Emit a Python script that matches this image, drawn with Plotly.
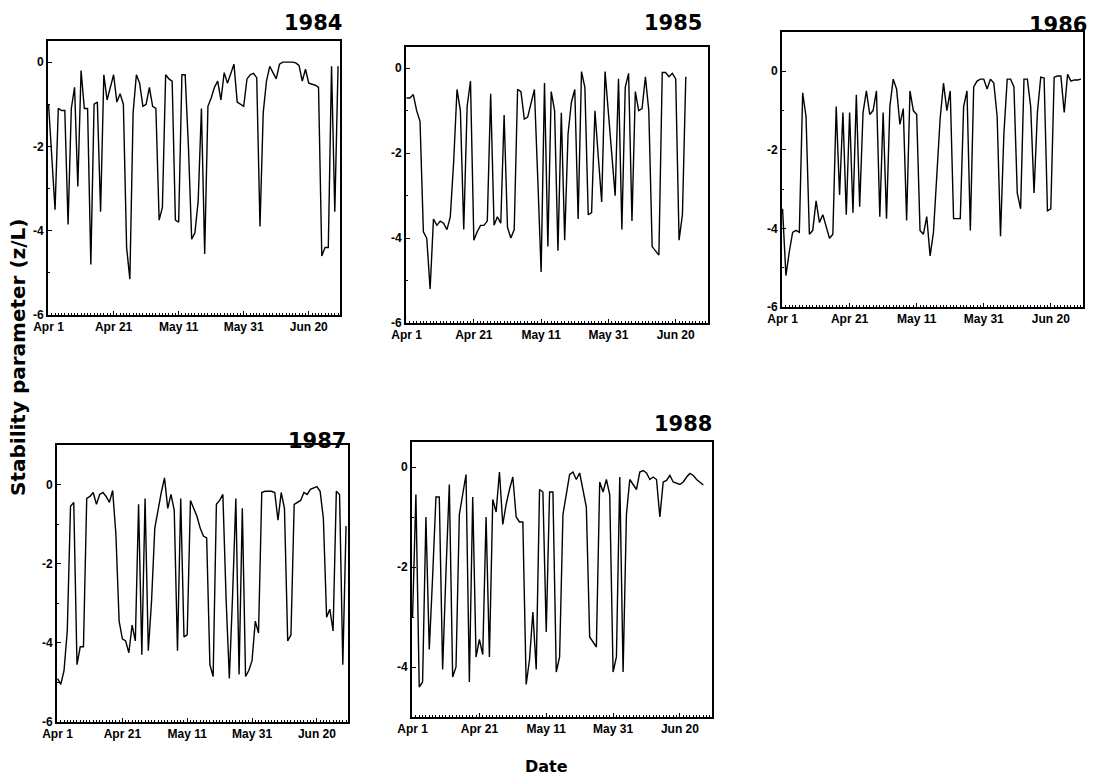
import pandas as pd
import plotly.graph_objects as go

# Daily stability parameter (z/L), starting on April 1 of each year
zl_1984 = [-1.0, -2.4, -3.5, -1.1, -1.15, -1.15, -3.85, -1.1, -0.6, -2.95,
           -0.2, -1.1, -1.1, -4.8, -1.0, -0.95, -3.55, -0.3, -0.9, -0.6,
           -0.3, -0.95, -0.75, -1.0, -4.4, -5.15, -1.2, -0.3, -0.5, -1.05,
           -1.0, -0.6, -1.05, -1.1, -3.75, -3.45, -0.3, -0.4, -0.45, -3.75,
           -3.8, -0.3, -0.3, -2.0, -4.2, -4.05, -3.3, -1.1, -4.55, -1.05,
           -0.85, -0.6, -0.45, -0.9, -0.25, -0.5, -0.3, -0.05, -0.95, -1.0,
           -1.05, -0.4, -0.3, -0.27, -0.37, -3.9, -1.2, -0.45, -0.1, -0.25,
           -0.4, -0.05, 0.0, 0.0, 0.0, 0.0, -0.02, -0.08, -0.45, -0.17,
           -0.5, -0.52, -0.55, -0.6, -4.6, -4.4, -4.4, -0.1, -3.55, -0.1]

zl_1985 = [-0.7, -0.7, -0.62, -1.0, -1.25, -3.85, -4.0, -5.2, -3.55, -3.7,
           -3.6, -3.65, -3.8, -3.5, -2.2, -0.5, -1.0, -3.8, -0.9, -0.3,
           -4.05, -3.85, -3.7, -3.7, -3.6, -0.6, -3.7, -3.5, -3.65, -1.1,
           -3.75, -4.0, -3.8, -0.5, -0.55, -1.2, -1.15, -0.85, -0.5, -2.6,
           -4.8, -0.35, -4.2, -0.55, -1.0, -4.3, -1.05, -4.05, -1.55, -0.8,
           -0.5, -3.55, -0.08, -0.45, -3.45, -3.4, -1.0, -2.1, -3.15, -0.08,
           -1.0, -2.0, -3.0, -0.25, -3.8, -0.45, -0.12, -3.6, -0.55, -1.0,
           -0.95, -0.2, -1.0, -4.2, -4.3, -4.4, -0.1, -0.1, -0.2, -0.12,
           -0.25, -4.05, -3.45, -0.2]

zl_1986 = [-3.5, -5.2, -4.6, -4.1, -4.05, -4.1, -0.55, -1.15, -4.15, -4.05,
           -3.3, -3.85, -3.65, -3.95, -4.25, -4.15, -0.9, -3.15, -1.05, -3.65,
           -1.05, -3.6, -0.6, -3.45, -1.05, -0.5, -1.1, -1.0, -0.5, -3.7,
           -1.05, -3.75, -0.9, -0.2, -0.45, -1.35, -0.95, -3.8, -0.5, -1.0,
           -1.1, -4.05, -4.15, -3.7, -4.7, -4.1, -2.6, -1.2, -0.3, -1.0,
           -0.5, -3.75, -3.75, -3.75, -0.9, -0.5, -4.05, -0.4, -0.25, -0.2,
           -0.2, -0.45, -0.2, -0.3, -1.15, -4.2, -1.6, -0.2, -0.2, -0.4,
           -3.1, -3.5, -0.2, -0.2, -0.9, -3.1, -1.05, -0.15, -0.17, -3.55,
           -3.5, -0.15, -0.12, -0.12, -1.05, -0.08, -0.25, -0.22, -0.22, -0.2]

zl_1987 = [-4.9, -5.05, -4.7, -3.7, -0.55, -0.45, -4.55, -4.1, -4.1, -0.35,
           -0.3, -0.2, -0.5, -0.25, -0.2, -0.3, -0.45, -0.15, -1.25, -3.45,
           -3.9, -3.95, -4.25, -3.55, -3.95, -0.5, -4.3, -0.35, -4.2, -2.95,
           -1.1, -0.6, -0.2, 0.17, -0.6, -0.25, -0.65, -4.2, -0.35, -3.85,
           -3.8, -0.4, -0.6, -0.8, -1.1, -1.3, -1.35, -4.55, -4.85, -0.5,
           -0.4, -0.25, -2.9, -4.9, -2.8, -0.35, -4.8, -0.6, -4.85, -4.7,
           -4.45, -3.45, -3.75, -0.2, -0.17, -0.17, -0.17, -0.2, -0.9, -0.2,
           -0.6, -3.95, -3.8, -0.5, -0.45, -0.4, -0.2, -0.25, -0.12, -0.08,
           -0.05, -0.17, -0.85, -3.35, -3.15, -3.7, -0.17, -0.25, -4.55, -1.05]

zl_1988 = [-3.0, -0.55, -4.4, -4.3, -1.0, -3.65, -2.2, -0.6, -0.6, -4.05,
           -2.1, -0.35, -4.2, -4.0, -0.95, -0.55, -0.15, -4.3, -0.6, -3.8,
           -3.45, -3.75, -1.0, -3.8, -0.65, -0.9, -0.1, -1.15, -0.75, -0.45,
           -0.2, -1.0, -1.1, -1.1, -4.35, -3.85, -2.9, -4.05, -0.45, -0.5,
           -3.3, -0.5, -0.5, -4.1, -3.8, -0.95, -0.5, -0.15, -0.1, -0.25,
           -0.12, -0.45, -0.8, -3.4, -3.5, -3.6, -0.3, -0.5, -0.25, -0.55,
           -4.1, -3.8, -0.2, -4.1, -0.95, -0.25, -0.35, -0.45, -0.1, -0.07,
           -0.12, -0.25, -0.2, -0.25, -1.0, -0.3, -0.27, -0.17, -0.3, -0.32,
           -0.35, -0.3, -0.2, -0.13, -0.17, -0.25, -0.3, -0.36]

series = {1984: zl_1984, 1985: zl_1985, 1986: zl_1986, 1987: zl_1987, 1988: zl_1988}

tick_days = ["04-01", "04-21", "05-11", "05-31", "06-20"]
tick_text = ["Apr 1", "Apr 21", "May 11", "May 31", "Jun 20"]

y_ranges = {1984: [-6, 0.5], 1985: [-6, 0.5], 1986: [-6, 1], 1987: [-6, 1], 1988: [-5, 0.5]}
y_ticks = {1984: [0, -2, -4, -6], 1985: [0, -2, -4, -6], 1986: [0, -2, -4, -6],
           1987: [0, -2, -4, -6], 1988: [0, -2, -4]}

# ---- page layout (pixels) ----
W, H = 1094, 780
# plot frame: left, right, top, bottom
frames = {
    1984: (48, 340, 41, 315),
    1985: (406, 708, 47, 323),
    1986: (782, 1083, 32, 307),
    1987: (57, 348, 445, 722),
    1988: (412, 712, 442, 717),
}
# year label: right edge, vertical centre
year_pos = {
    1984: (344, 23),
    1985: (704, 23),
    1986: (1089, 25),
    1987: (348, 441),
    1988: (714, 424),
}

tick_font = dict(family="Liberation Sans, Arial, sans-serif", size=12, color="black", weight="bold")
DAY_MS = 86400000

fig = go.Figure()
annotations = []

for i, (yr, vals) in enumerate(series.items(), start=1):
    xs = pd.date_range(f"{yr}-04-01", periods=len(vals), freq="D")
    sfx = "" if i == 1 else str(i)
    fig.add_trace(go.Scatter(
        x=xs, y=vals, mode="lines",
        line=dict(color="black", width=1.4),
        xaxis="x" + sfx, yaxis="y" + sfx, showlegend=False,
        hoverinfo="x+y",
    ))
    l, r, t, b = frames[yr]
    start = pd.Timestamp(f"{yr}-04-01")
    x_end = start + pd.Timedelta(days=89.6)
    fig.update_layout(**{
        "xaxis" + sfx: dict(
            domain=[l / W, r / W], anchor="y" + sfx, automargin=False,
            type="date",
            range=[start - pd.Timedelta(hours=4), x_end],
            tickvals=[f"{yr}-{d}" for d in tick_days], ticktext=tick_text,
            ticks="inside", ticklen=4, tickwidth=1.2, tickcolor="black",
            minor=dict(ticks="inside", ticklen=2, tickwidth=1, dtick=DAY_MS,
                       tick0=f"{yr}-04-01", tickcolor="black", showgrid=False),
            showline=True, linecolor="black", linewidth=1.7, mirror=True,
            showgrid=False, zeroline=False, tickfont=tick_font, tickangle=0,
        ),
        "yaxis" + sfx: dict(
            domain=[1 - b / H, 1 - t / H], anchor="x" + sfx, automargin=False,
            range=y_ranges[yr], tickvals=y_ticks[yr],
            ticktext=[str(v) for v in y_ticks[yr]],
            ticks="inside", ticklen=4, tickwidth=1.2, tickcolor="black",
            minor=dict(ticks="inside", ticklen=2, tickwidth=1, dtick=1, tick0=0,
                       tickcolor="black", showgrid=False),
            showline=True, linecolor="black", linewidth=1.7, mirror=True,
            showgrid=False, zeroline=False, tickfont=tick_font,
        ),
    })
    xr, yc = year_pos[yr]
    annotations.append(dict(
        text=str(yr), xref="paper", yref="paper",
        x=xr / W, y=1 - yc / H, xanchor="right", yanchor="middle",
        showarrow=False,
        font=dict(family="DejaVu Sans, sans-serif", size=21, color="black", weight="bold"),
    ))

annotations.append(dict(
    text="Date", xref="paper", yref="paper", x=546 / W, y=1 - 766 / H,
    xanchor="center", yanchor="middle", showarrow=False,
    font=dict(family="DejaVu Sans, sans-serif", size=16, color="black", weight="bold"),
))
annotations.append(dict(
    text="Stability parameter (z/L)", xref="paper", yref="paper",
    x=18 / W, y=1 - 358 / H, xanchor="center", yanchor="middle",
    textangle=-90, showarrow=False,
    font=dict(family="DejaVu Sans, sans-serif", size=20, color="black", weight="bold"),
))

fig.update_layout(
    width=W, height=H,
    margin=dict(l=0, r=0, t=0, b=0),
    paper_bgcolor="white", plot_bgcolor="white",
    showlegend=False,
    annotations=annotations,
)

fig.write_html("out.html")
